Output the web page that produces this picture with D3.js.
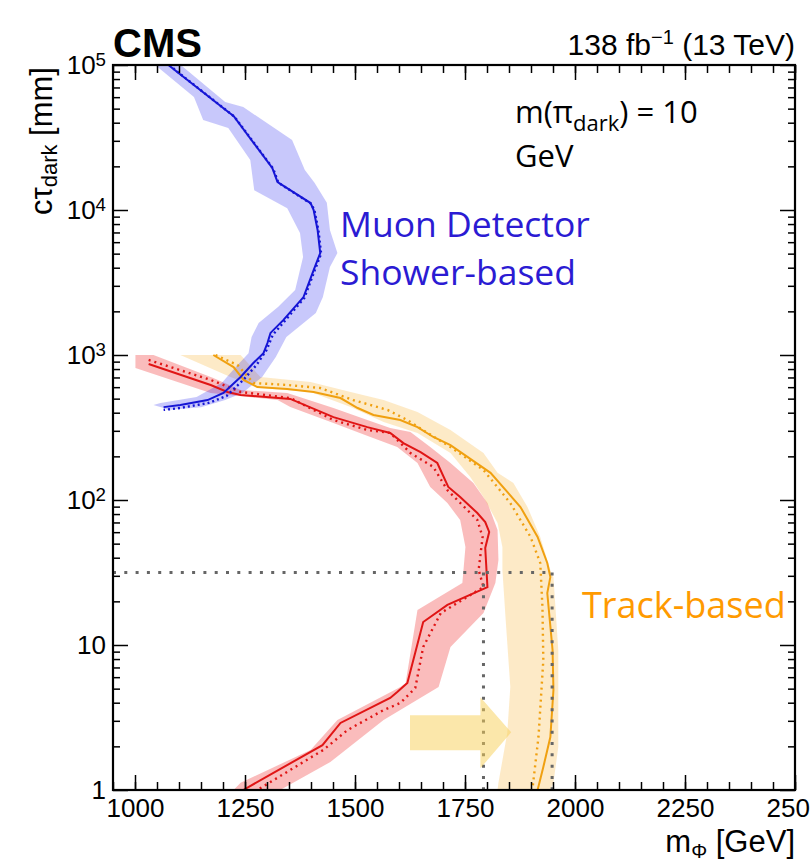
<!DOCTYPE html>
<html>
<head>
<meta charset="utf-8">
<script src="https://cdn.jsdelivr.net/npm/d3@7"></script>
<style>
  body { margin: 0; background: #fff; }
</style>
</head>
<body>
<svg id="chart"></svg>
<script>
// tick values
const massTicks = [1000, 1250, 1500, 1750, 2000, 2250, 2500]
const ctauTicks = [1, 10, 100, 1000, 10000, 100000]

// muon detector shower-based (blue), [m_phi GeV, ctau mm]
const muonObs = [[1076,100000],[1096,89500],[1212,47400],[1224,44500],[1312,19500],[1324,15600],[1399,11170],[1406,10000],[1415,7280],[1421,5050],[1406,3850],[1383,2510],[1337,1740],[1308,1420],[1301,1210],[1292,1030],[1269,881],[1240,705],[1201,547],[1165,489],[1103,452],[1065,437]]
const muonExp = [[1078,100000],[1098,89000],[1214,47000],[1226,44000],[1314,19300],[1326,15400],[1401,11000],[1408,9900],[1417,7200],[1423,5000],[1408,3800],[1385,2480],[1342,1740],[1313,1374],[1299,1082],[1276,853],[1246,673],[1208,521],[1167,467],[1103,431],[1065,418]]
const muonBandHi = [[1104,100000],[1205,55600],[1246,51300],[1357,30400],[1386,18900],[1408,15400],[1436,11200],[1443,7280],[1460,5050],[1443,4050],[1427,2510],[1411,1950],[1344,1330],[1320,969],[1289,705],[1244,547],[1205,489],[1150,437],[1074,418],[1065,431]]
const muonBandLo = [[1046,100000],[1134,60100],[1155,41800],[1212,36800],[1262,22100],[1271,13700],[1346,10300],[1375,6940],[1382,4740],[1364,2810],[1325,2140],[1281,1660],[1265,1330],[1258,1030],[1229,826],[1197,641],[1140,513],[1058,467],[1042,452]]

// red track-based curve
const redObs = [[1031,867],[1172,621],[1210,556],[1240,530],[1353,498],[1451,373],[1528,318],[1580,290],[1610,247],[1649,214],[1687,180],[1712,123],[1739,105],[1778,81.3],[1796,70.5],[1805,60.2],[1796,46.7],[1801,25.1],[1710,18.9],[1655,14.4],[1619,5.47],[1596,4.74],[1580,4.31],[1467,2.90],[1426,2.04],[1246,1]]
const redExp = [[1031,924],[1172,673],[1240,556],[1353,505],[1451,356],[1528,304],[1580,290],[1626,211],[1678,169],[1710,117],[1778,72.8],[1790,55.6],[1781,32.9],[1792,25.1],[1695,16.6],[1655,9.69],[1637,5.05],[1603,3.98],[1565,3.56],[1483,2.59],[1428,1.89],[1278,1]]
const redBandHi = [[1001,1000],[1042,1000],[1178,694],[1240,574],[1346,547],[1451,431],[1528,356],[1580,314],[1626,294],[1671,232],[1717,180],[1769,131],[1801,95.3],[1824,62.1],[1826,38.6],[1819,26.8],[1792,16.6],[1717,9.69],[1690,5.13],[1565,3.04],[1444,1.56],[1330,1]]
const redBandLo = [[1001,813],[1172,547],[1324,489],[1353,438],[1451,340],[1535,272],[1596,232],[1642,180],[1671,123],[1710,95.3],[1739,72.8],[1751,47.4],[1744,26.8],[1642,17.4],[1615,5.47],[1603,5.13],[1460,3.04],[1399,1.89],[1240,1.12],[1224,1]]

// orange track-based curve
const orangeObs = [[1178,1000],[1224,826],[1247,673],[1278,601],[1346,583],[1406,556],[1467,505],[1506,431],[1542,386],[1603,356],[1642,318],[1678,272],[1717,239],[1808,154],[1876,89.5],[1915,55.6],[1937,36.8],[1944,29.4],[1937,22.8],[1949,9.24],[1951,4.89],[1944,2.32],[1928,1.44],[1915,1]]
const orangeExp = [[1183,1000],[1233,853],[1269,641],[1346,621],[1421,592],[1496,489],[1574,418],[1619,356],[1665,290],[1717,232],[1792,161],[1853,95.3],[1899,55.6],[1921,36.8],[1926,18.3],[1928,7.88],[1917,2.32],[1903,1]]
const orangeBandHi = [[1240,1000],[1285,705],[1399,651],[1490,556],[1565,489],[1642,405],[1717,304],[1792,211],[1824,154],[1860,131],[1892,89.5],[1921,55.6],[1944,32.9],[1951,29.4],[1962,9.24],[1962,1.98],[1951,1.12],[1944,1]]
const orangeBandLo = [[1103,1000],[1217,705],[1285,592],[1399,556],[1490,438],[1565,345],[1642,290],[1717,211],[1762,144],[1792,105],[1824,69.4],[1835,47.4],[1835,32.9],[1842,15.6],[1853,5.13],[1846,2.47],[1826,1.12],[1824,1]]

// reference lines and arrow
const refCtau = 31.6
const refMasses = [1792, 1948]
const arrowMass = [1625, 1785, 1855]
const arrowCtau = 2.5

const width = 810
const height = 864
const margin = {top: 65, right: 15, bottom: 74, left: 113}
const rootFont = '"Liberation Sans", Arial, sans-serif'
const noteFont = '"Open Sans", "Noto Sans", sans-serif'

const svg = d3.select('#chart').attr('width', width).attr('height', height)
  .attr('font-family', rootFont)

const x = d3.scaleLinear().domain([950, 2500]).range([margin.left, width - margin.right])
const y = d3.scaleLog().domain([1, 1e5]).range([height - margin.bottom, margin.top])

const x0 = x.range()[0], x1 = x.range()[1]
const y0 = y.range()[0], y1 = y.range()[1]

svg.append('clipPath').attr('id', 'plotClip')
  .append('rect').attr('x', x0).attr('y', y1).attr('width', x1 - x0).attr('height', y0 - y1)

const plot = svg.append('g').attr('clip-path', 'url(#plotClip)')

const line = d3.line().x(d => x(d[0])).y(d => y(d[1]))
const band = (hi, lo) => line(hi.concat(lo.slice().reverse())) + 'Z'

// bands
plot.append('path').attr('d', band(redBandHi, redBandLo)).attr('fill', '#ee2020').attr('fill-opacity', 0.3)
plot.append('path').attr('d', band(orangeBandHi, orangeBandLo)).attr('fill', '#f8b030').attr('fill-opacity', 0.27)
plot.append('path').attr('d', band(muonBandHi, muonBandLo)).attr('fill', '#2424ee').attr('fill-opacity', 0.25)

// lines
const curves = [
  [redObs, '#e01515', null],
  [redExp, '#e01515', '2,4'],
  [orangeObs, '#f0a010', null],
  [orangeExp, '#f0a010', '2,4'],
  [muonExp, '#1515d5', '2,3'],
  [muonObs, '#1515d5', null]
]
curves.forEach(c => {
  plot.append('path').attr('d', line(c[0]))
    .attr('fill', 'none').attr('stroke', c[1])
    .attr('stroke-width', c[2] ? 2.4 : 2)
    .attr('stroke-dasharray', c[2])
})

// dotted reference lines
const refStyle = s => s.attr('stroke', '#666').attr('stroke-width', 3).attr('stroke-dasharray', '3,8.3').attr('fill', 'none')
plot.append('line').attr('x1', x0).attr('x2', x(refMasses[1])).attr('y1', y(refCtau)).attr('y2', y(refCtau)).call(refStyle)
refMasses.forEach(m => {
  plot.append('line').attr('x1', x(m)).attr('x2', x(m)).attr('y1', y(refCtau)).attr('y2', y0).call(refStyle)
})

// arrow
const ay = y(arrowCtau)
plot.append('path')
  .attr('d', `M${x(arrowMass[0])},${ay - 17} L${x(arrowMass[1])},${ay - 17} L${x(arrowMass[1])},${ay - 35} L${x(arrowMass[2])},${ay} L${x(arrowMass[1])},${ay + 36} L${x(arrowMass[1])},${ay + 18} L${x(arrowMass[0])},${ay + 18}Z`)
  .attr('fill', '#f7cf55').attr('fill-opacity', 0.5)

// axes
const styleAxis = g => {
  g.select('.domain').remove()
  g.selectAll('.tick line').attr('stroke', '#000').attr('stroke-width', 1.5)
}
const minorMass = d3.range(950, 2501, 50)
const minorCtau = []
ctauTicks.slice(0, -1).forEach(d => { for (let k = 2; k < 10; k++) minorCtau.push(d * k) })

svg.append('g').attr('transform', `translate(0,${y0})`)
  .call(d3.axisBottom(x).tickValues(minorMass).tickSizeInner(-8).tickSizeOuter(0).tickFormat(''))
  .call(styleAxis)
svg.append('g').attr('transform', `translate(0,${y1})`)
  .call(d3.axisTop(x).tickValues(minorMass).tickSizeInner(-8).tickSizeOuter(0).tickFormat(''))
  .call(styleAxis)
svg.append('g').attr('transform', `translate(0,${y1})`)
  .call(d3.axisTop(x).tickValues(massTicks).tickSizeInner(-15).tickSizeOuter(0).tickFormat(''))
  .call(styleAxis)
svg.append('g').attr('transform', `translate(0,${y0})`)
  .call(d3.axisBottom(x).tickValues(massTicks).tickSizeInner(-15).tickSizeOuter(0).tickPadding(9).tickFormat(d3.format('d')))
  .call(styleAxis)
  .attr('font-family', rootFont)
  .selectAll('.tick text').attr('font-size', 26).attr('fill', '#000')

svg.append('g').attr('transform', `translate(${x0},0)`)
  .call(d3.axisLeft(y).tickValues(minorCtau).tickSizeInner(-7).tickSizeOuter(0).tickFormat(''))
  .call(styleAxis)
svg.append('g').attr('transform', `translate(${x1},0)`)
  .call(d3.axisRight(y).tickValues(minorCtau).tickSizeInner(-7).tickSizeOuter(0).tickFormat(''))
  .call(styleAxis)
svg.append('g').attr('transform', `translate(${x1},0)`)
  .call(d3.axisRight(y).tickValues(ctauTicks).tickSizeInner(-15).tickSizeOuter(0).tickFormat(''))
  .call(styleAxis)
const gy = svg.append('g').attr('transform', `translate(${x0},0)`)
  .call(d3.axisLeft(y).tickValues(ctauTicks).tickSizeInner(-15).tickSizeOuter(0).tickPadding(7).tickFormat(d => d))
  .call(styleAxis)
  .attr('font-family', rootFont)
gy.selectAll('.tick text').attr('font-size', 26).attr('fill', '#000')
  .each(function(d) {
    const e = Math.round(Math.log10(d))
    if (e < 2) return
    const t = d3.select(this).text('')
    t.append('tspan').text('10')
    t.append('tspan').attr('dy', '-0.42em').attr('font-size', '0.72em').text(e)
  })

// frame
svg.append('rect').attr('x', x0).attr('y', y1).attr('width', x1 - x0).attr('height', y0 - y1)
  .attr('fill', 'none').attr('stroke', '#000').attr('stroke-width', 2.2)

// titles
svg.append('text').attr('x', x0).attr('y', 57).attr('font-size', 40).attr('font-weight', 'bold').text('CMS')
const lumi = svg.append('text').attr('x', x1).attr('y', 55).attr('font-size', 30).attr('text-anchor', 'end')
lumi.append('tspan').text('138 fb')
lumi.append('tspan').attr('dy', -11).attr('font-size', 20).text('\u22121')
lumi.append('tspan').attr('dy', 11).text(' (13 TeV)')

const xt = svg.append('text').attr('x', x1).attr('y', 852).attr('font-size', 31).attr('text-anchor', 'end')
xt.append('tspan').text('m')
xt.append('tspan').attr('dy', 6).attr('font-size', 20).text('\u03a6')
xt.append('tspan').attr('dy', -6).text(' [GeV]')

const yt = svg.append('text').attr('transform', `translate(52,${y1 + 2}) rotate(-90)`).attr('font-size', 31).attr('text-anchor', 'end')
yt.append('tspan').text('c\u03c4')
yt.append('tspan').attr('dy', 5).attr('font-size', 22).text('dark')
yt.append('tspan').attr('dy', -5).text(' [mm]')

// annotations
const ann = svg.append('g').attr('font-family', noteFont)
const mt = ann.append('text').attr('x', 515).attr('y', 123).attr('font-size', 31)
mt.append('tspan').text('m(\u03c0')
mt.append('tspan').attr('dy', 8).attr('font-size', 22).text('dark')
mt.append('tspan').attr('dy', -8).text(') = 10')
ann.append('text').attr('x', 515).attr('y', 167).attr('font-size', 31).text('GeV')

ann.append('text').attr('x', 340).attr('y', 237).attr('font-size', 35.5).attr('fill', '#2b1bd3').text('Muon Detector')
ann.append('text').attr('x', 340).attr('y', 285).attr('font-size', 35.5).attr('fill', '#2b1bd3').text('Shower-based')
ann.append('text').attr('x', 582).attr('y', 618).attr('font-size', 36).attr('fill', '#ff9a00').text('Track-based')
</script>
</body>
</html>
